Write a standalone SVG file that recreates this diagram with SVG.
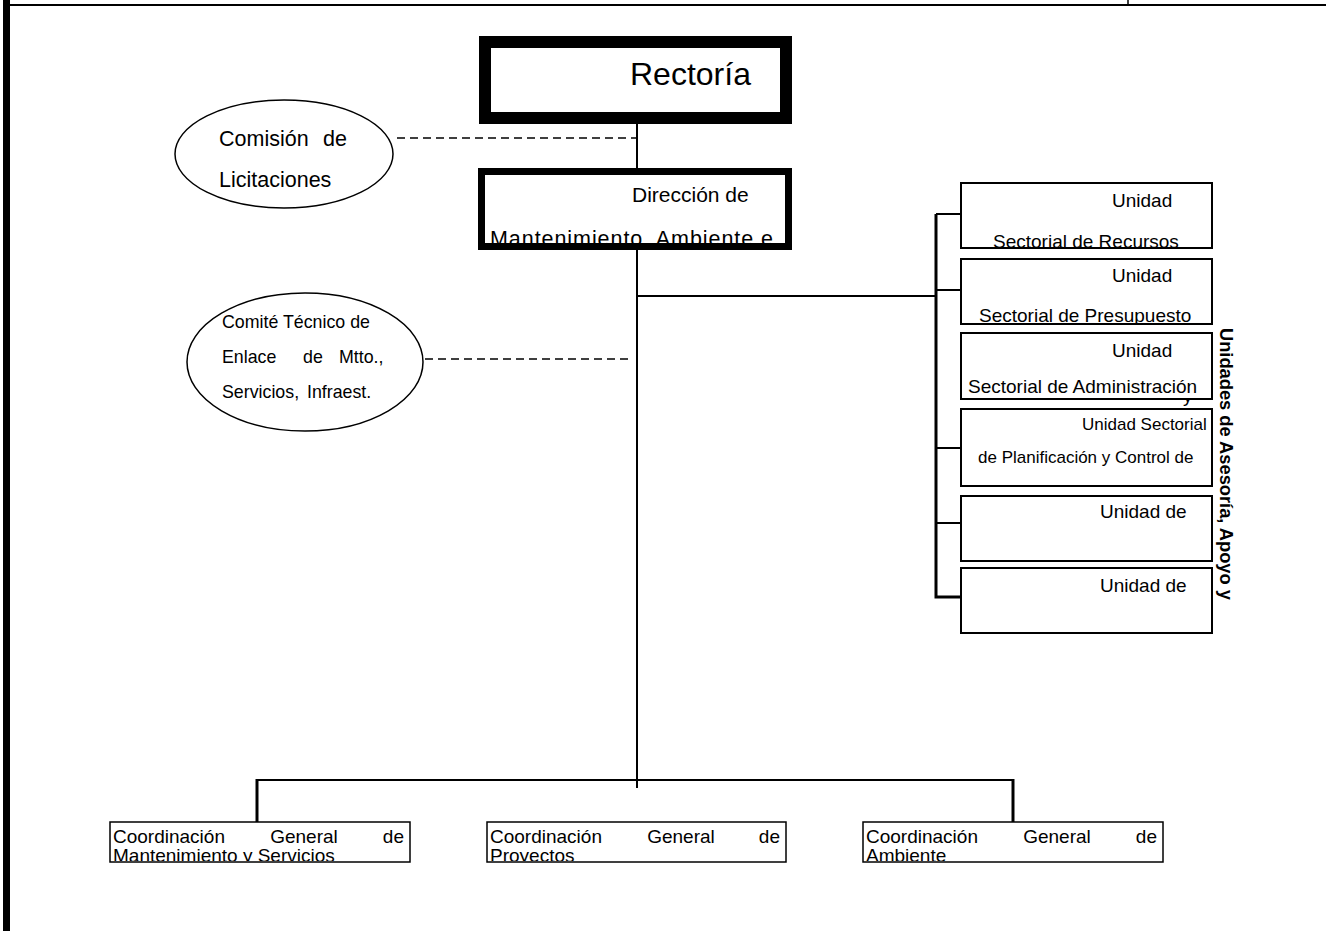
<svg xmlns="http://www.w3.org/2000/svg" width="1326" height="931" viewBox="0 0 1326 931">
<style>
.t{font-family:"Liberation Sans",Arial,sans-serif;fill:#000}
.box{fill:#fff;stroke:#000;stroke-width:2}
.bbox{fill:#fff;stroke:#000;stroke-width:1.5}
.ell{fill:#fff;stroke:#000;stroke-width:1.5}
.ln{stroke:#000;stroke-width:2;fill:none}
.bus{stroke:#000;stroke-width:3;fill:none}
.dash{stroke:#000;stroke-width:1.5;stroke-dasharray:8 5;fill:none}
.s19{font-size:19px}
.s17{font-size:17px}
.mid{text-anchor:middle}
.end{text-anchor:end}
</style>
<defs>
<clipPath id="cDir"><rect x="485" y="175" width="300" height="68"/></clipPath>
<clipPath id="cU1"><rect x="962" y="184" width="249" height="63"/></clipPath>
<clipPath id="cU2"><rect x="962" y="260" width="249" height="63"/></clipPath>
<clipPath id="cY"><rect x="1170" y="400" width="40" height="8"/></clipPath>
<clipPath id="cB1"><rect x="111" y="823" width="298" height="38"/></clipPath>
<clipPath id="cB2"><rect x="488" y="823" width="297" height="38"/></clipPath>
<clipPath id="cB3"><rect x="864" y="823" width="298" height="38"/></clipPath>
</defs>

<g id="frame">
<line x1="3" y1="5" x2="1326" y2="5" stroke="#000" stroke-width="2"/>
<line x1="1128" y1="0" x2="1128" y2="5" stroke="#000" stroke-width="1.5"/>
<rect x="3" y="0" width="7" height="931" fill="#000"/>
</g>

<g id="connectors">
<line class="ln" x1="637" y1="123" x2="637" y2="168"/>
<line class="ln" x1="637" y1="250" x2="637" y2="788"/>
<line class="dash" x1="397" y1="138" x2="637" y2="138"/>
<line class="dash" x1="425" y1="359" x2="633" y2="359"/>
<line class="ln" x1="637" y1="296" x2="936" y2="296"/>
<polyline class="bus" points="936,214 936,597 961,597"/>
<line class="ln" x1="936" y1="214" x2="961" y2="214"/>
<line class="ln" x1="936" y1="290" x2="961" y2="290"/>
<line class="ln" x1="936" y1="448" x2="961" y2="448"/>
<line class="ln" x1="936" y1="523" x2="961" y2="523"/>
<line class="ln" x1="256" y1="780" x2="1014" y2="780"/>
<line class="bus" x1="257" y1="779" x2="257" y2="822"/>
<line class="bus" x1="1013" y1="779" x2="1013" y2="822"/>
</g>

<g id="rectoria">
<rect x="485" y="42" width="301" height="76" fill="#fff" stroke="#000" stroke-width="12"/>
<text class="t" x="630" y="85" font-size="32">Rectoría</text>
</g>

<g id="direccion">
<rect x="481.5" y="171.5" width="307" height="75" fill="#fff" stroke="#000" stroke-width="7"/>
<text class="t" x="632" y="202" font-size="21">Dirección de</text>
<g clip-path="url(#cDir)">
<text class="t" x="490" y="246" font-size="21.5" textLength="283" lengthAdjust="spacing">Mantenimiento, Ambiente e</text>
</g>
</g>

<g id="comision">
<ellipse class="ell" cx="284" cy="154" rx="109" ry="54"/>
<text class="t" y="146" font-size="21.5"><tspan x="219">Comisión</tspan><tspan x="323">de</tspan></text>
<text class="t" x="219" y="187" font-size="21.5">Licitaciones</text>
</g>

<g id="comite">
<ellipse class="ell" cx="305" cy="362" rx="118" ry="69"/>
<text class="t" x="222" y="328" font-size="17.8">Comité Técnico de</text>
<text class="t" y="363" font-size="17.8"><tspan x="222">Enlace</tspan><tspan x="303">de</tspan><tspan x="339">Mtto.,</tspan></text>
<text class="t" y="398" font-size="17.8"><tspan x="222">Servicios,</tspan><tspan x="307">Infraest.</tspan></text>
</g>

<g id="u-recursos">
<rect class="box" x="961" y="183" width="251" height="65"/>
<text class="t s19" x="1112" y="207">Unidad</text>
<text class="t s19" x="993" y="248" clip-path="url(#cU1)">Sectorial de Recursos</text>
</g>

<g id="u-presupuesto">
<rect class="box" x="961" y="259" width="251" height="65"/>
<text class="t s19" x="1112" y="282">Unidad</text>
<text class="t s19" x="979" y="322" clip-path="url(#cU2)">Sectorial de Presupuesto</text>
</g>

<g id="u-administracion">
<rect class="box" x="961" y="333" width="251" height="66"/>
<text class="t s19" x="1112" y="357">Unidad</text>
<text class="t s19" x="968" y="393">Sectorial de Administración</text>
<text class="t s19" x="1183" y="402" clip-path="url(#cY)">y</text>
</g>

<g id="u-planificacion">
<rect class="box" x="961" y="409" width="251" height="77"/>
<text class="t s17" x="1082" y="430">Unidad Sectorial</text>
<text class="t s17" x="978" y="463">de Planificación y Control de</text>
</g>

<g id="u-5">
<rect class="box" x="961" y="496" width="251" height="65"/>
<text class="t s19" x="1100" y="518">Unidad de</text>
</g>

<g id="u-6">
<rect class="box" x="961" y="568" width="251" height="65"/>
<text class="t s19" x="1100" y="592">Unidad de</text>
</g>

<g id="grupo-label">
<text class="t" transform="translate(1220,328) rotate(90)" font-size="18.3" font-weight="bold">Unidades de Asesoría, Apoyo y</text>
</g>

<g id="cg-mantenimiento">
<rect class="bbox" x="110" y="822" width="300" height="40"/>
<g clip-path="url(#cB1)">
<text class="t s19" y="843"><tspan x="113">Coordinación</tspan><tspan class="mid" x="304">General</tspan><tspan class="end" x="404">de</tspan></text>
<text class="t s19" x="113" y="862">Mantenimiento y Servicios</text>
</g>
</g>

<g id="cg-proyectos">
<rect class="bbox" x="487" y="822" width="299" height="40"/>
<g clip-path="url(#cB2)">
<text class="t s19" y="843"><tspan x="490">Coordinación</tspan><tspan class="mid" x="681">General</tspan><tspan class="end" x="780">de</tspan></text>
<text class="t s19" x="490" y="862">Proyectos</text>
</g>
</g>

<g id="cg-ambiente">
<rect class="bbox" x="863" y="822" width="300" height="40"/>
<g clip-path="url(#cB3)">
<text class="t s19" y="843"><tspan x="866">Coordinación</tspan><tspan class="mid" x="1057">General</tspan><tspan class="end" x="1157">de</tspan></text>
<text class="t s19" x="866" y="862">Ambiente</text>
</g>
</g>
</svg>
